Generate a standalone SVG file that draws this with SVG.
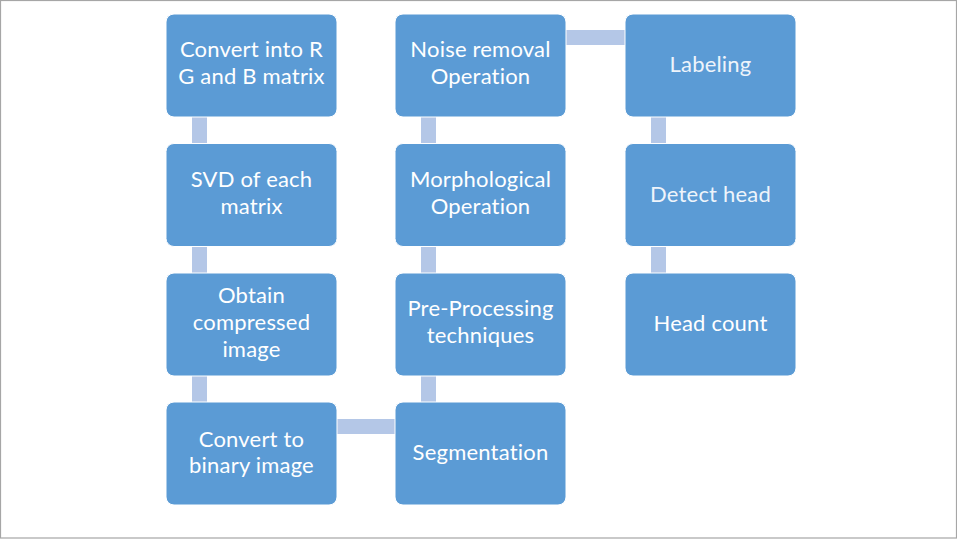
<svg xmlns="http://www.w3.org/2000/svg" width="957" height="539" viewBox="0 0 957 539">
<style>
.box{fill:#5B9BD5;stroke:#FFFFFF;stroke-width:1}
.lbl{fill:#FFFFFF;font-family:Lato,"Open Sans","Liberation Sans",sans-serif;font-size:22px;letter-spacing:0.2px;text-anchor:middle}
.light{fill:#EEF4FB}
.con{fill:#B4C7E7}
</style>
<rect x="0" y="0" width="957" height="539" fill="#FFFFFF"/>
<rect x="0.5" y="0.5" width="956" height="537.5" fill="none" stroke="#A6A6A6" stroke-width="1.2"/>
<g id="connectors">
<rect class="con" x="192" y="117" width="15" height="27"/>
<rect class="con" x="192" y="246" width="15" height="27"/>
<rect class="con" x="192" y="375" width="15" height="27"/>
<rect class="con" x="337" y="419" width="58" height="15"/>
<rect class="con" x="421" y="375" width="15" height="27"/>
<rect class="con" x="421" y="246" width="15" height="27"/>
<rect class="con" x="421" y="117" width="15" height="27"/>
<rect class="con" x="566" y="30" width="59" height="15"/>
<rect class="con" x="651" y="117" width="15" height="27"/>
<rect class="con" x="651" y="246" width="15" height="27"/>
</g>
<g id="n1"><rect class="box" x="166" y="14" width="171" height="103" rx="8"/>
<text class="lbl" x="251.5" y="57">Convert into R</text><text class="lbl" x="251.5" y="84">G and B matrix</text></g>
<g id="n2"><rect class="box" x="166" y="143.5" width="171" height="103" rx="8"/>
<text class="lbl" x="251.5" y="186.5">SVD of each</text><text class="lbl" x="251.5" y="213.5">matrix</text></g>
<g id="n3"><rect class="box" x="166" y="273" width="171" height="103" rx="8"/>
<text class="lbl" x="251.5" y="303">Obtain</text><text class="lbl" x="251.5" y="330">compressed</text><text class="lbl" x="251.5" y="357">image</text></g>
<g id="n4"><rect class="box" x="166" y="402" width="171" height="103" rx="8"/>
<text class="lbl" x="251.5" y="447">Convert to</text><text class="lbl" x="251.5" y="473">binary image</text></g>
<g id="n5"><rect class="box" x="395" y="402" width="171" height="103" rx="8"/>
<text class="lbl" x="480.5" y="460">Segmentation</text></g>
<g id="n6"><rect class="box" x="395" y="273" width="171" height="103" rx="8"/>
<text class="lbl" x="480.5" y="316">Pre-Processing</text><text class="lbl" x="480.5" y="343">techniques</text></g>
<g id="n7"><rect class="box" x="395" y="143.5" width="171" height="103" rx="8"/>
<text class="lbl" x="480.5" y="186.5">Morphological</text><text class="lbl" x="480.5" y="213.5">Operation</text></g>
<g id="n8"><rect class="box" x="395" y="14" width="171" height="103" rx="8"/>
<text class="lbl" x="480.5" y="57">Noise removal</text><text class="lbl" x="480.5" y="84">Operation</text></g>
<g id="n9"><rect class="box" x="625" y="14" width="171" height="103" rx="8"/>
<text class="lbl light" x="710.5" y="72">Labeling</text></g>
<g id="n10"><rect class="box" x="625" y="143.5" width="171" height="103" rx="8"/>
<text class="lbl light" x="710.5" y="201.5">Detect head</text></g>
<g id="n11"><rect class="box" x="625" y="273" width="171" height="103" rx="8"/>
<text class="lbl" x="710.5" y="331">Head count</text></g>
</svg>
